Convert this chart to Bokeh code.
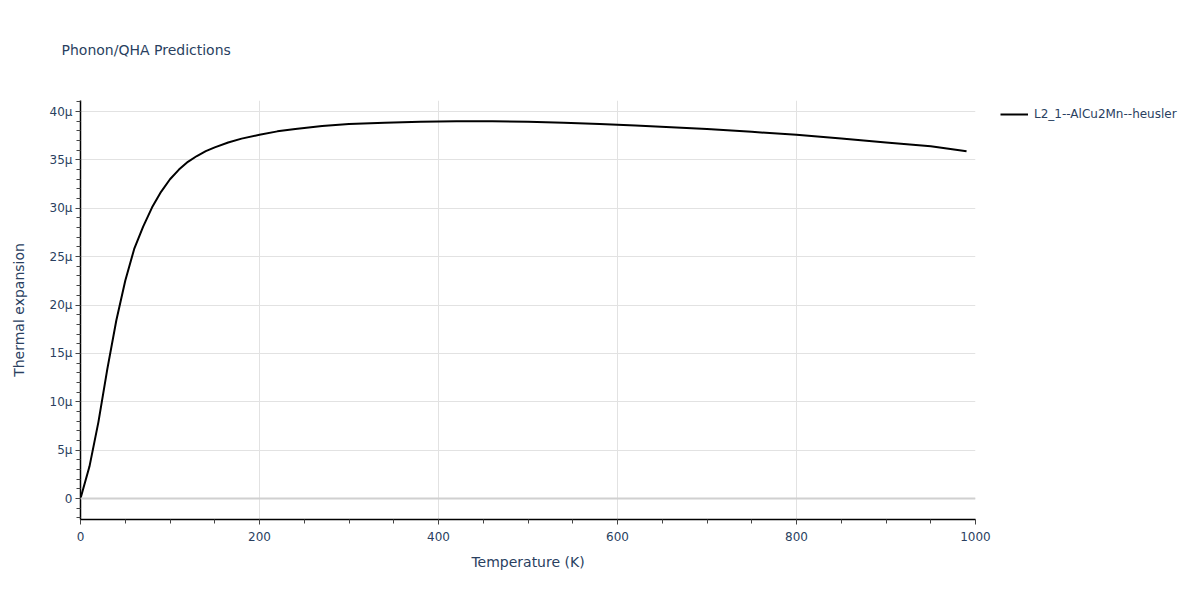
import numpy as np
from bokeh.plotting import figure
from bokeh.models import (Range1d, SingleIntervalTicker, CustomJSTickFormatter, Span,
                          Legend, LegendItem, Title)
from bokeh.embed import file_html
from bokeh.resources import INLINE

# Data
temperature_K = [0, 10, 20, 30, 40, 50, 60, 70, 80, 90, 100, 110, 120, 130, 140, 150,
                 165, 180, 200, 220, 240, 270, 300, 340, 380, 420, 460, 500, 540, 580,
                 620, 660, 700, 750, 800, 850, 900, 950, 990]
thermal_expansion_micro = [0.0, 3.3, 7.9, 13.4, 18.4, 22.5, 25.8, 28.1, 30.1, 31.7, 33.0,
                           34.0, 34.8, 35.4, 35.9, 36.3, 36.8, 37.2, 37.6, 37.95, 38.2,
                           38.5, 38.7, 38.85, 38.95, 39.0, 39.0, 38.95, 38.85, 38.72,
                           38.55, 38.38, 38.2, 37.9, 37.6, 37.2, 36.8, 36.4, 35.9]
series_name = "L2_1--AlCu2Mn--heusler"
title_text = "Phonon/QHA Predictions"
x_title = "Temperature (K)"
y_title = "Thermal expansion"

thermal_expansion = np.array(thermal_expansion_micro) * 1e-6

FONT = "DejaVu Sans"
TXT = "#2a3f5f"
GRID = "#e2e2e2"

FW, FH = 895, 419
p = figure(frame_width=FW, frame_height=FH, output_backend="svg", toolbar_location=None,
           x_range=Range1d(0, 1000), y_range=Range1d(-2.17e-6, 41.14e-6),
           min_border_left=80, min_border_right=200, min_border_top=100,
           min_border_bottom=70)
p.outline_line_color = None
p.background_fill_color = "white"
p.border_fill_color = "white"

xt = SingleIntervalTicker(interval=200, num_minor_ticks=4)
yt = SingleIntervalTicker(interval=5e-6, num_minor_ticks=5)
p.xaxis.ticker = xt
p.yaxis.ticker = yt
p.xgrid.ticker = SingleIntervalTicker(interval=200)
p.ygrid.ticker = SingleIntervalTicker(interval=5e-6)
p.xgrid.grid_line_color = GRID
p.ygrid.grid_line_color = GRID
p.xgrid.grid_line_width = 1
p.ygrid.grid_line_width = 1

p.yaxis.formatter = CustomJSTickFormatter(
    code="const v = Math.round(tick*1e6); return v === 0 ? '0' : v + '\u03bc';")

for ax in (p.xaxis[0], p.yaxis[0]):
    ax.axis_line_color = "black"
    ax.axis_line_width = 1.5
    ax.major_tick_line_color = "#444444"
    ax.minor_tick_line_color = "#444444"
    ax.major_tick_out = 5
    ax.major_tick_in = 0
    ax.minor_tick_out = 4
    ax.minor_tick_in = 0
    ax.major_label_text_font = FONT
    ax.major_label_text_font_size = "12px"
    ax.major_label_text_color = TXT
    ax.axis_label_text_font = FONT
    ax.axis_label_text_font_size = "14px"
    ax.axis_label_text_color = TXT
    ax.axis_label_text_font_style = "normal"

p.xaxis.axis_label = x_title
p.yaxis.axis_label = y_title
p.xaxis.major_label_standoff = 7
p.yaxis.major_label_standoff = 3
p.xaxis.axis_label_standoff = 10
p.yaxis.axis_label_standoff = 20

zero = Span(location=0, dimension="width", line_color="#d0d0d0", line_width=2)
p.add_layout(zero)

r = p.line(temperature_K, thermal_expansion, line_color="black", line_width=2)

legend = Legend(items=[LegendItem(label=series_name, renderers=[r])],
                location=(25, FH - 22), orientation="vertical")
legend.label_text_font = FONT
legend.label_text_font_size = "12px"
legend.label_text_color = TXT
legend.glyph_width = 28
legend.glyph_height = 16
legend.label_standoff = 6
legend.label_height = 16
legend.background_fill_alpha = 0
legend.border_line_color = None
legend.padding = 0
legend.margin = 0
legend.spacing = 0
p.add_layout(legend, "right")

p.title = Title(text=title_text, align="left", offset=-19, standoff=82,
                vertical_align="top",
                text_font=FONT, text_font_size="14px", text_color=TXT,
                text_font_style="normal")

open("out.html", "w").write(file_html(p, INLINE))
